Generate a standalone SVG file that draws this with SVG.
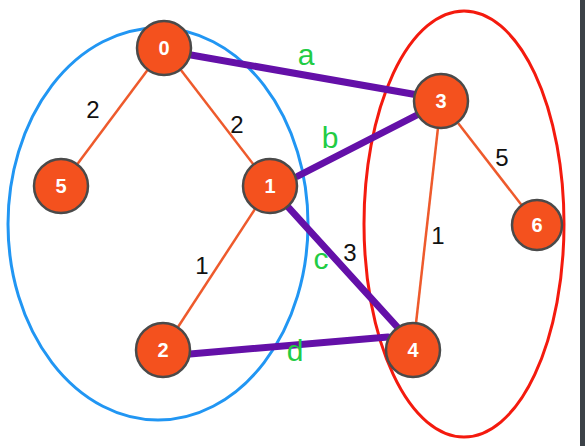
<svg xmlns="http://www.w3.org/2000/svg" width="585" height="446" viewBox="0 0 585 446">
<style>
.n circle{fill:#f4511e;stroke:#4a4a4a;stroke-width:2.5}
.n text{fill:#fff;font-family:"Liberation Sans",Arial,sans-serif;font-weight:bold;font-size:20px;text-anchor:middle;dominant-baseline:central}
.e{stroke:#ee5a2c;stroke-width:2.5;fill:none}
.p{stroke:#6410a8;stroke-width:7;stroke-linecap:round;fill:none}
.w{font-family:"Liberation Sans",Arial,sans-serif;font-size:24px;fill:#111;text-anchor:middle}
.g{font-family:"Liberation Sans",Arial,sans-serif;font-size:30px;fill:#22cc44;text-anchor:middle}
</style>
<rect width="585" height="446" fill="#fff"/>
<rect x="580" y="0" width="5" height="446" fill="#3c4248"/>
<ellipse cx="158" cy="224" rx="150" ry="196" fill="none" stroke="#2196f3" stroke-width="3"/>
<ellipse cx="464" cy="224" rx="100" ry="213" fill="none" stroke="#f41a0e" stroke-width="3"/>
<g id="connectors">
<line class="e" x1="164" y1="48" x2="61" y2="186"/>
<line class="e" x1="164" y1="48" x2="270" y2="186"/>
<line class="e" x1="270" y1="186" x2="163" y2="350"/>
<line class="e" x1="441" y1="101" x2="537" y2="225"/>
<line class="e" x1="441" y1="101" x2="413" y2="350"/>
<line class="p" x1="191" y1="55" x2="418" y2="95"/>
<line class="p" x1="298" y1="176" x2="417" y2="115"/>
<line class="p" x1="289" y1="208" x2="400" y2="330"/>
<line class="p" x1="190" y1="354" x2="388" y2="337"/>
<text class="w" x="93" y="118">2</text>
<text class="w" x="237" y="133">2</text>
<text class="w" x="202" y="274">1</text>
<text class="w" x="350" y="261">3</text>
<text class="w" x="502" y="166">5</text>
<text class="w" x="438" y="244">1</text>
<text class="g" x="306" y="65">a</text>
<text class="g" x="330" y="148">b</text>
<text class="g" x="321" y="269">c</text>
<text class="g" x="295" y="361">d</text>
</g>
<g id="n0" class="n"><circle cx="164" cy="48" r="27"/><text x="164" y="48">0</text></g>
<g id="n5" class="n"><circle cx="61" cy="186" r="27"/><text x="61" y="186">5</text></g>
<g id="n1" class="n"><circle cx="270" cy="186" r="27"/><text x="270" y="186">1</text></g>
<g id="n2" class="n"><circle cx="163" cy="350" r="27"/><text x="163" y="350">2</text></g>
<g id="n3" class="n"><circle cx="441" cy="101" r="27"/><text x="441" y="101">3</text></g>
<g id="n6" class="n"><circle cx="537" cy="225" r="25"/><text x="537" y="225">6</text></g>
<g id="n4" class="n"><circle cx="413" cy="350" r="27"/><text x="413" y="350">4</text></g>
</svg>
